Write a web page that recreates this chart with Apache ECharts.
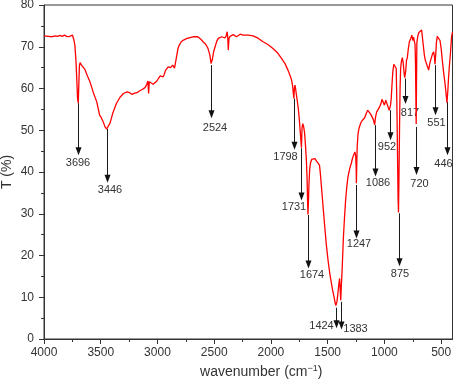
<!DOCTYPE html>
<html><head><meta charset="utf-8">
<script src="https://cdn.jsdelivr.net/npm/echarts@6/dist/echarts.min.js"></script>
<style>html,body{margin:0;padding:0;background:#fff}#c{width:454px;height:380px}</style>
</head><body><div id="c"></div>
<script>
// ---- data ----
const wavenumbers = [
4000,3960,3930,3900,3880,3860,3840,3820,3800,3780,3765,3750,3738,3728,3718,3710,3704,3698,3693,3688,
3682,3670,3655,3640,3620,3595,3565,3535,3510,3495,3478,3462,3448,3435,3418,3395,3362,3330,3300,3268,
3245,3226,3200,3180,3160,3138,3110,3094,3084,3078,3072,3055,3038,3022,3005,2992,2975,2962,2950,2940,
2928,2918,2905,2895,2885,2874,2866,2858,2850,2843,2832,2820,2808,2790,2770,2740,2712,2680,2645,2618,
2598,2575,2555,2538,2528,2524,2516,2505,2492,2478,2464,2448,2434,2420,2406,2394,2386,2380,2376,2370,
2360,2345,2333,2318,2303,2290,2272,2245,2200,2157,2110,2070,2030,1982,1940,1907,1875,1850,1830,1818,
1809,1803,1798,1793,1788,1783,1776,1768,1758,1750,1742,1736,1731,1726,1720,1712,1704,1696,1688,1682,
1677,1674,1670,1665,1659,1652,1641,1630,1612,1598,1585,1572,1564,1555,1540,1526,1512,1497,1482,1467,
1455,1444,1435,1428,1424,1418,1410,1401,1395,1390,1385,1380,1372,1362,1352,1342,1332,1322,1306,1292,
1281,1271,1260,1253,1249,1247,1244,1240,1233,1224,1210,1200,1185,1174,1160,1148,1135,1120,1108,1098,
1086,1078,1068,1055,1043,1030,1022,1012,1000,988,978,968,958,952,946,940,933,926,917,910,
903,896,890,884,880,876,872,867,862,857,851,842,834,827,821,817,812,805,798,790,
780,768,758,750,743,736,730,726,722,720,717,714,706,696,688,680,672,664,656,648,
640,630,620,610,600,588,576,566,559,554,551,547,542,534,526,518,510,500,490,478,
466,456,449,446,441,435,428,418,408,400];
const transmittance = [
72.6,72.5,72.4,72.6,72.5,72.7,72.5,72.8,72.5,72.4,72.2,72.8,71.8,70.4,66.5,61.5,57.5,56.5,61.0,65.5,
66.2,65.6,65.1,64.6,63.2,61.6,59.0,56.8,53.6,53.0,52.0,50.8,50.3,50.6,51.7,54.0,56.4,57.9,58.8,59.2,
59.0,58.6,58.9,59.0,59.4,59.7,60.2,61.0,61.8,58.8,61.6,61.6,61.0,61.2,61.8,62.4,63.0,63.2,62.8,63.4,
64.4,64.3,65.2,65.6,65.0,64.8,65.6,65.4,64.9,65.2,67.6,69.5,70.4,71.2,71.6,72.0,72.2,72.4,72.4,71.8,
71.2,70.6,69.6,68.0,66.0,65.6,67.0,68.8,70.0,71.3,72.0,72.3,72.4,72.0,72.1,72.6,73.6,72.0,69.2,72.0,
72.5,72.8,72.9,72.5,72.4,72.8,73.0,72.8,72.8,72.6,72.0,71.2,70.6,69.6,68.5,67.2,65.9,64.4,63.0,62.0,
60.6,58.8,57.6,60.2,60.8,60.0,58.6,57.0,55.0,52.5,49.8,47.5,45.8,50.5,51.6,50.9,49.5,46.5,43.0,38.8,
33.0,29.8,32.5,37.0,40.5,42.1,43.0,43.3,43.2,42.6,42.1,41.6,39.5,36.5,31.5,27.0,22.6,18.9,15.8,13.3,
11.5,10.1,8.8,8.0,7.8,9.0,10.9,13.3,14.5,12.0,9.3,12.5,17.0,24.0,29.0,33.2,36.3,38.7,40.8,42.1,
43.3,44.1,44.8,43.8,41.0,37.3,41.5,46.0,49.0,50.5,51.6,52.2,52.6,53.0,54.0,54.8,54.5,53.8,53.5,52.6,
51.3,53.2,54.4,55.0,55.6,56.4,57.4,56.8,56.0,57.2,56.8,55.6,54.8,54.5,56.0,57.6,61.0,64.0,65.8,66.0,
65.8,64.8,56.0,43.0,34.0,30.3,38.0,50.0,60.0,64.8,66.4,67.4,66.0,63.8,62.6,62.4,64.3,66.8,67.4,69.4,
71.2,72.0,72.8,71.5,72.3,71.3,70.5,66.0,56.0,51.5,62.0,71.0,72.5,73.4,73.0,73.2,74.0,72.0,70.0,68.0,
66.8,66.5,65.2,64.4,66.0,67.2,68.3,68.8,67.6,65.8,65.5,68.5,71.0,72.5,72.8,72.4,71.5,69.6,66.8,63.8,
61.2,58.6,56.6,56.5,59.5,62.5,65.2,68.5,72.5,73.5];

const peakLabels = ['3696','3446','2524','1798','1731','1674','1424','1383','1247','1086','952','875','817','720','551','446'];
const arrowWavenumbers = [3696,3446,2524,1798,1731,1674,1424,1383,1247,1086,952,875,817,720,551,446];
const arrowStartT = [56.5,50.3,65.6,57.6,45.7,29.7,7.5,8.9,36.9,51.2,54.8,30.1,62.4,50.8,65.6,56.8];
const arrowEndT   = [44.0,37.4,52.9,45.3,33.2,16.9,2.6,2.25,24.1,38.9,47.6,17.4,56.3,39.3,53.6,44.0];

const xMajorTicks = [500,1000,1500,2000,2500,3000,3500,4000];
const xMinorTicks = [750,1250,1750,2250,2750,3250,3750];

// ---- layout (label placement relative to arrow tip, px) ----
const labelOffsets = [[-0.5,8],[2.5,7.5],[3.5,9.5],[-9,6.7],[-7.5,6.7],[3.5,6.7],[-15,-2],[14,-0.3],[2.5,6],[2.5,6],[-3.5,6.7],[0.5,7.3],[4.5,8.7],[3,9.3],[1,7.7],[-4,8.3]];

const FONT = '"Liberation Sans", Arial, sans-serif';
const TXT = '#333';

const chart = echarts.init(document.getElementById('c'), null, {renderer: 'canvas'});
const lineData = wavenumbers.map((w, i) => [w, transmittance[i]]);
const arrowData = arrowWavenumbers.map((w, i) => [w, arrowStartT[i], arrowEndT[i], i]);

chart.setOption({
  animation: false,
  backgroundColor: '#fff',
  grid: {left: 44, right: 1.5, top: 5, bottom: 41, show: true, borderColor: '#333', borderWidth: 1,
    containLabel: false, outerBoundsMode: 'none'},
  xAxis: [{
    type: 'value', min: 400, max: 4000, inverse: true, position: 'bottom',
    name: 'wavenumber (cm{s|−1})', nameLocation: 'middle', nameGap: 25,
    nameTextStyle: {fontSize: 14, color: TXT, fontFamily: FONT, padding: [0, 0, 0, 26],
      rich: {s: {fontSize: 9, color: TXT, fontFamily: FONT, padding: [0, 0, 7, 0]}}},
    axisLine: {show: true, lineStyle: {color: '#333', width: 1}},
    axisTick: {show: true, length: 5, lineStyle: {color: '#333'}, customValues: xMajorTicks},
    axisLabel: {show: true, fontSize: 12, color: TXT, fontFamily: FONT, margin: 8, customValues: xMajorTicks,
      formatter: v => String(v)},
    splitLine: {show: false}
  }, {
    type: 'value', min: 400, max: 4000, inverse: true, position: 'bottom', gridIndex: 0,
    axisLine: {show: false},
    axisTick: {show: true, length: 3, lineStyle: {color: '#333'}, customValues: xMinorTicks},
    axisLabel: {show: false},
    splitLine: {show: false}
  }],
  yAxis: {
    type: 'value', min: 0, max: 80, interval: 10,
    name: 'T (%)', nameLocation: 'middle', nameGap: 30, nameMoveOverlap: false,
    nameTextStyle: {fontSize: 14, color: TXT, fontFamily: FONT},
    axisLine: {show: true, lineStyle: {color: '#333', width: 1}},
    axisTick: {show: true, length: 5, lineStyle: {color: '#333'}},
    minorTick: {show: true, splitNumber: 2, length: 3, lineStyle: {color: '#333'}},
    axisLabel: {fontSize: 12, color: TXT, fontFamily: FONT, margin: 10},
    splitLine: {show: false}
  },
  series: [{
    type: 'line', xAxisIndex: 0, data: lineData, showSymbol: false, symbol: 'none',
    lineStyle: {color: '#ff0000', width: 1.3}, silent: true
  }, {
    type: 'custom', xAxisIndex: 0, data: arrowData, clip: false, silent: true,
    encode: {x: 0, y: 1},
    renderItem: function (params, api) {
      const i = api.value(3);
      const top = api.coord([api.value(0), api.value(1)]);
      const tip = api.coord([api.value(0), api.value(2)]);
      const x = Math.round(top[0]) + 0.5;
      const headLen = 8, headHalf = 3;
      const off = labelOffsets[i];
      return {type: 'group', children: [
        {type: 'line', shape: {x1: x, y1: top[1], x2: x, y2: tip[1] - headLen + 1}, style: {stroke: '#1a1a1a', lineWidth: 1}},
        {type: 'polygon', shape: {points: [[x - headHalf, tip[1] - headLen], [x + headHalf, tip[1] - headLen], [x, tip[1]]]}, style: {fill: '#111'}},
        {type: 'text', style: {text: peakLabels[i], x: x + off[0], y: tip[1] + off[1], align: 'center', verticalAlign: 'middle',
          fontSize: 11, fontFamily: FONT, fill: TXT}}
      ]};
    }
  }]
});
</script>
</body></html>
